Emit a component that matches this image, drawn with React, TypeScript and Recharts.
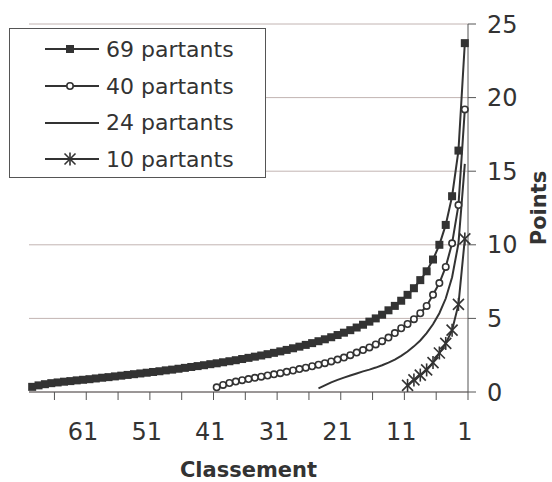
import { LineChart, Line, XAxis, YAxis, CartesianGrid, Legend } from "recharts";

// classement 1..69 (le 1er est à droite)
const ranks = Array.from({ length: 69 }, (_, i) => i + 1);

// points par rang, du 1er au dernier
const pts69 = [
    23.7, 16.4, 13.3, 11.35, 10.0, 9.0, 8.2, 7.6, 7.05, 6.6,
    6.2, 5.85, 5.55, 5.25, 5.0, 4.78, 4.57, 4.38, 4.2, 4.03,
    3.87, 3.72, 3.58, 3.45, 3.32, 3.2, 3.08, 2.97, 2.86, 2.76,
    2.66, 2.57, 2.48, 2.4, 2.32, 2.24, 2.16, 2.09, 2.02, 1.95,
    1.89, 1.82, 1.76, 1.7, 1.64, 1.58, 1.52, 1.47, 1.41, 1.36,
    1.31, 1.26, 1.21, 1.16, 1.11, 1.06, 1.01, 0.97, 0.92, 0.87,
    0.83, 0.79, 0.74, 0.7, 0.65, 0.6, 0.53, 0.45, 0.35,
];
const pts40 = [
    19.2, 12.7, 10.1, 8.5, 7.4, 6.6, 5.85, 5.35, 4.95, 4.62,
    4.33, 4.0, 3.7, 3.45, 3.23, 3.03, 2.85, 2.68, 2.5, 2.34,
    2.2, 2.08, 1.96, 1.85, 1.75, 1.65, 1.56, 1.46, 1.37, 1.28,
    1.2, 1.12, 1.04, 0.96, 0.88, 0.8, 0.71, 0.61, 0.48, 0.32,
];
const pts24 = [
    15.5, 10.1, 7.8, 6.35, 5.35, 4.6, 4.0, 3.5, 3.1, 2.75,
    2.45, 2.2, 2.0, 1.82, 1.66, 1.52, 1.4, 1.26, 1.12, 0.98,
    0.82, 0.65, 0.45, 0.25,
];
const pts10 = [10.4, 5.95, 4.2, 3.3, 2.65, 2.0, 1.5, 1.15, 0.82, 0.45];

const seriesNames = ["69 partants", "40 partants", "24 partants", "10 partants"];

// bornes des catégories (tick marks) et libellés
const xTickBounds = [0.5, 5.5, 10.5, 15.5, 20.5, 25.5, 30.5, 35.5, 40.5, 45.5, 50.5, 55.5, 60.5, 65.5];
const xTickLabels = [1, 11, 21, 31, 41, 51, 61];
const yTicks = [0, 5, 10, 15, 20, 25];

const INK = "#333333";
const GRID = "#c2b4b2";
const FONT = "'DejaVu Sans', Verdana, sans-serif";

const W = 552;
const H = 482;
const M = { top: 24, right: 0, left: 29, bottom: 0 };
const Y_AXIS_W = 84;
const X_AXIS_H = 90;
const HALF_CAT = (W - M.left - Y_AXIS_W) / ranks.length / 2;

const data = ranks.map((r, i) => ({
    rank: r,
    s69: pts69[i],
    s40: pts40[i],
    s24: pts24[i],
    s10: pts10[i],
}));

function XTick({ x, y, payload }: any) {
    const rank = payload.value + 0.5;
    if (!xTickLabels.includes(rank)) return <g />;
    return (
        <text x={x - HALF_CAT} y={y + 38} textAnchor="middle" fill={INK} fontSize={24} fontFamily={FONT}>
            {rank}
        </text>
    );
}

function YTick({ x, y, payload }: any) {
    return (
        <text x={x} y={y} dy={8.5} textAnchor="start" fill={INK} fontSize={24} fontFamily={FONT}>
            {payload.value}
        </text>
    );
}

function SquareDot({ cx, cy, index }: any) {
    if (cx == null || cy == null) return <g key={`sq${index}`} />;
    return <rect key={`sq${index}`} x={cx - 4} y={cy - 4} width={8} height={8} fill={INK} />;
}

function CircleDot({ cx, cy, index }: any) {
    if (cx == null || cy == null) return <g key={`ci${index}`} />;
    return <circle key={`ci${index}`} cx={cx} cy={cy} r={3.2} fill="#fff" stroke={INK} strokeWidth={1.6} />;
}

function StarDot({ cx, cy, index }: any) {
    if (cx == null || cy == null) return <g key={`st${index}`} />;
    return (
        <g key={`st${index}`} stroke={INK} strokeWidth={1.6}>
            <line x1={cx - 5.5} y1={cy - 5.5} x2={cx + 5.5} y2={cy + 5.5} />
            <line x1={cx - 5.5} y1={cy + 5.5} x2={cx + 5.5} y2={cy - 5.5} />
            <line x1={cx} y1={cy - 6.5} x2={cx} y2={cy + 6.5} />
        </g>
    );
}

function LegendMarker({ kind }: { kind: number }) {
    return (
        <svg width={56} height={20} style={{ display: "block" }}>
            <line x1={1} y1={10} x2={55} y2={10} stroke={INK} strokeWidth={2} />
            {kind === 0 && <rect x={22} y={6} width={8} height={8} fill={INK} />}
            {kind === 1 && <circle cx={26} cy={10} r={3.2} fill="#fff" stroke={INK} strokeWidth={1.6} />}
            {kind === 3 && (
                <g stroke={INK} strokeWidth={1.6}>
                    <line x1={20.5} y1={4.5} x2={31.5} y2={15.5} />
                    <line x1={20.5} y1={15.5} x2={31.5} y2={4.5} />
                    <line x1={26} y1={3.5} x2={26} y2={16.5} />
                </g>
            )}
        </svg>
    );
}

function LegendBox() {
    return (
        <div
            style={{
                position: "relative",
                width: 257,
                height: 150,
                boxSizing: "border-box",
                border: "1px solid #555",
                background: "#fff",
            }}
        >
            {seriesNames.map((name, i) => (
                <div
                    key={name}
                    style={{
                        position: "absolute",
                        left: 34,
                        top: 2 + i * 36.7,
                        height: 36.7,
                        display: "flex",
                        alignItems: "center",
                        gap: 6,
                    }}
                >
                    <LegendMarker kind={i} />
                    <span style={{ fontFamily: FONT, fontSize: 22, color: INK, whiteSpace: "nowrap" }}>{name}</span>
                </div>
            ))}
        </div>
    );
}

export default function App() {
    return (
        <div style={{ position: "absolute", left: 0, top: 0, width: W, height: H, background: "#fff" }}>
            <LineChart width={W} height={H} data={data} margin={M}>
                <CartesianGrid vertical={false} stroke={GRID} strokeWidth={1} />
                <XAxis
                    type="number"
                    dataKey="rank"
                    domain={[0.5, 69.5]}
                    reversed
                    ticks={xTickBounds}
                    interval={0}
                    height={X_AXIS_H}
                    tickSize={8}
                    tick={<XTick />}
                    stroke="#555"
                    label={{
                        value: "Classement",
                        position: "insideBottom",
                        offset: 5,
                        style: { fontFamily: FONT, fontSize: 21, fontWeight: "bold", fill: INK },
                    }}
                />
                <YAxis
                    orientation="right"
                    domain={[0, 25]}
                    ticks={yTicks}
                    interval={0}
                    width={Y_AXIS_W}
                    tickSize={8}
                    tickMargin={11}
                    tick={<YTick />}
                    stroke="#555"
                />
                <Legend
                    layout="horizontal"
                    verticalAlign="middle"
                    align="center"
                    content={() => <LegendBox />}
                    wrapperStyle={{ left: 9, top: 28, width: 257, height: 150 }}
                />
                <Line dataKey="s24" name={seriesNames[2]} stroke={INK} strokeWidth={2} dot={false} isAnimationActive={false} />
                <Line dataKey="s10" name={seriesNames[3]} stroke={INK} strokeWidth={2} dot={<StarDot />} isAnimationActive={false} />
                <Line dataKey="s40" name={seriesNames[1]} stroke={INK} strokeWidth={2} dot={<CircleDot />} isAnimationActive={false} />
                <Line dataKey="s69" name={seriesNames[0]} stroke={INK} strokeWidth={2} dot={<SquareDot />} isAnimationActive={false} />
                <text
                    x={539}
                    y={208}
                    transform="rotate(-90 539 208)"
                    textAnchor="middle"
                    dominantBaseline="central"
                    fontFamily={FONT}
                    fontSize={21}
                    fontWeight="bold"
                    fill={INK}
                >
                    Points
                </text>
            </LineChart>
        </div>
    );
}
